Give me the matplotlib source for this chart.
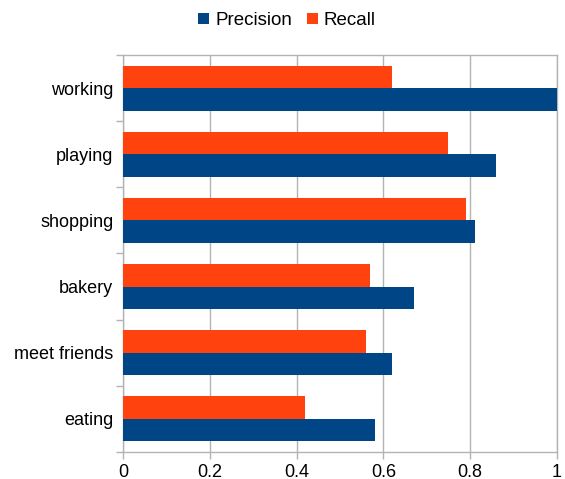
import matplotlib.pyplot as plt
import numpy as np

categories = ["eating", "meet friends", "bakery", "shopping", "playing", "working"]
precision = [0.58, 0.62, 0.67, 0.81, 0.86, 1.0]
recall = [0.42, 0.56, 0.57, 0.79, 0.75, 0.62]

plt.rcParams['font.family'] = ['Liberation Sans', 'DejaVu Sans']

fig = plt.figure(figsize=(5.65, 4.79), dpi=100)
ax = fig.add_axes([0.2177, 0.0564, 0.7681, 0.8288])

y = np.arange(len(categories))
h = 0.34
ax.barh(y - h / 2, precision, height=h, color='#004586', label='Precision', zorder=3)
ax.barh(y + h / 2, recall, height=h, color='#ff420e', label='Recall', zorder=3)

ax.set_xlim(0, 1)
ax.set_ylim(-0.5, len(categories) - 0.5)
ax.set_xticks([0, 0.2, 0.4, 0.6, 0.8, 1])
ax.set_xticklabels(["0", "0.2", "0.4", "0.6", "0.8", "1"])
ax.set_yticks(y)
ax.set_yticklabels(categories)
ax.set_yticks(np.arange(len(categories) + 1) - 0.5, minor=True)

ax.grid(axis='x', color='#b3b3b3', linewidth=1, zorder=0)
for s in ax.spines.values():
    s.set_color('#b3b3b3')
    s.set_linewidth(1)

ax.tick_params(axis='y', which='major', length=0, pad=7, labelsize=13)
ax.tick_params(axis='y', which='minor', length=5, color='#b3b3b3', width=1)
ax.tick_params(axis='x', length=5, color='#b3b3b3', width=1, pad=4, labelsize=13)

fig.legend(loc='upper center', bbox_to_anchor=(0.508, 1.01), ncol=2, frameon=False,
           fontsize=13.5, handlelength=0.6, handleheight=0.6, handletextpad=0.3,
           columnspacing=0.8)

fig.savefig('out.png', dpi=100)
